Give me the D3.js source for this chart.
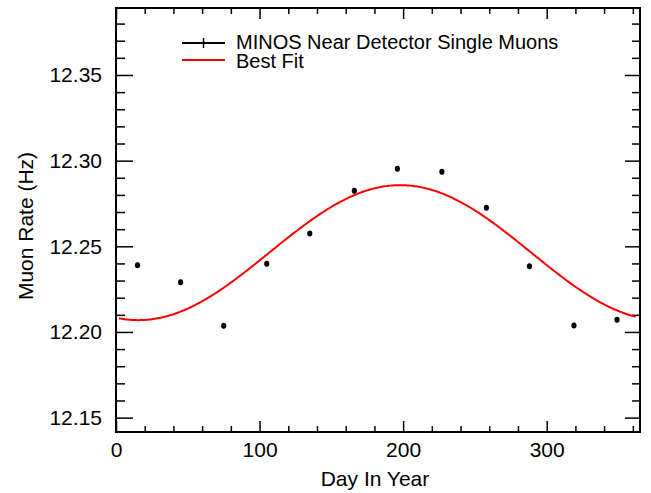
<!DOCTYPE html>
<html lang="en">
<head>
<meta charset="UTF-8">
<title>MINOS muon rate</title>
<script src="https://cdn.jsdelivr.net/npm/d3@7"></script>
<style>
  body { margin: 0; background: #fff; }
  text { font-family: "Liberation Sans", Arial, Helvetica, sans-serif; }
</style>
</head>
<body>
<script>
// data: monthly averages of single muon rate
var days = [15, 45, 75, 105, 135, 166, 196, 227, 258, 288, 319, 349];
var rates = [12.239, 12.229, 12.2036, 12.2398, 12.2575, 12.2824, 12.2953, 12.2935, 12.2725, 12.2383, 12.2038, 12.2071];
var errs = [0.0015, 0.0015, 0.0015, 0.0015, 0.0015, 0.0015, 0.0015, 0.0015, 0.0015, 0.0015, 0.0015, 0.0015];
var xMajor = [0, 100, 200, 300];
var yMajor = [12.15, 12.20, 12.25, 12.30, 12.35];
// best fit: mean + amp * cos(2pi (t - phase)/period)
var fitMean = 12.2463, fitAmp = 0.0394, fitPhase = 198, fitPeriod = 365;
var fitRange = [2, 362];
var legendLabels = ["MINOS Near Detector Single Muons", "Best Fit"];

var W = 651, H = 493;
var padL = 116, padR = 640, padT = 8, padB = 432;

var svg = d3.select("body").append("svg")
    .attr("width", W)
    .attr("height", H);

var x = d3.scaleLinear().domain([0, 365]).range([padL, padR]);
var y = d3.scaleLinear().domain([12.1416, 12.3891]).range([padB, padT]);

var xMinor = d3.range(0, 366, 20).filter(function (d) { return d % 100 !== 0; });
var yMinor = d3.range(12.15, 12.389, 0.01).map(function (d) { return +d.toFixed(2); })
    .filter(function (d) { return yMajor.indexOf(d) < 0; });

function styleAxis(g) {
    g.select(".domain").remove();
    g.selectAll(".tick line").attr("stroke", "#000").attr("stroke-width", 1.5);
    g.selectAll("text").attr("font-size", 21).attr("fill", "#000");
}

// bottom
svg.append("g").attr("transform", "translate(0," + padB + ")")
    .call(d3.axisBottom(x).tickValues(xMajor).tickSize(-11).tickPadding(10))
    .call(styleAxis);
svg.append("g").attr("transform", "translate(0," + padB + ")")
    .call(d3.axisBottom(x).tickValues(xMinor).tickSize(-6).tickFormat(""))
    .call(styleAxis);
// top
svg.append("g").attr("transform", "translate(0," + padT + ")")
    .call(d3.axisTop(x).tickValues(xMajor).tickSize(-11).tickFormat(""))
    .call(styleAxis);
svg.append("g").attr("transform", "translate(0," + padT + ")")
    .call(d3.axisTop(x).tickValues(xMinor).tickSize(-6).tickFormat(""))
    .call(styleAxis);
// left
svg.append("g").attr("transform", "translate(" + padL + ",0)")
    .call(d3.axisLeft(y).tickValues(yMajor).tickSize(-17).tickPadding(14).tickFormat(d3.format(".2f")))
    .call(styleAxis);
svg.append("g").attr("transform", "translate(" + padL + ",0)")
    .call(d3.axisLeft(y).tickValues(yMinor).tickSize(-9).tickFormat(""))
    .call(styleAxis);
// right
svg.append("g").attr("transform", "translate(" + padR + ",0)")
    .call(d3.axisRight(y).tickValues(yMajor).tickSize(-15).tickFormat(""))
    .call(styleAxis);
svg.append("g").attr("transform", "translate(" + padR + ",0)")
    .call(d3.axisRight(y).tickValues(yMinor).tickSize(-8).tickFormat(""))
    .call(styleAxis);

// frame
svg.append("rect")
    .attr("x", padL).attr("y", padT)
    .attr("width", padR - padL).attr("height", padB - padT)
    .attr("fill", "none").attr("stroke", "#000").attr("stroke-width", 2);

// fit curve
var fitDays = d3.range(fitRange[0], fitRange[1] + 0.5, 1);
var line = d3.line()
    .x(function (d) { return x(d); })
    .y(function (d) { return y(fitMean + fitAmp * Math.cos(2 * Math.PI * (d - fitPhase) / fitPeriod)); });
svg.append("path")
    .datum(fitDays)
    .attr("d", line)
    .attr("fill", "none")
    .attr("stroke", "#ff0000")
    .attr("stroke-width", 2);

// data points with error bars
var pts = days.map(function (d, i) { return { day: d, rate: rates[i], err: errs[i] }; });
svg.selectAll(".err").data(pts).enter().append("line")
    .attr("x1", function (d) { return x(d.day); })
    .attr("x2", function (d) { return x(d.day); })
    .attr("y1", function (d) { return y(d.rate + d.err); })
    .attr("y2", function (d) { return y(d.rate - d.err); })
    .attr("stroke", "#000").attr("stroke-width", 1.5);
svg.selectAll(".pt").data(pts).enter().append("ellipse")
    .attr("cx", function (d) { return x(d.day); })
    .attr("cy", function (d) { return y(d.rate); })
    .attr("rx", 2.6).attr("ry", 3)
    .attr("fill", "#000");

// legend
var lg = svg.append("g");
lg.append("line").attr("x1", 182).attr("x2", 225).attr("y1", 43).attr("y2", 43)
    .attr("stroke", "#000").attr("stroke-width", 2);
lg.append("line").attr("x1", 203.5).attr("x2", 203.5).attr("y1", 38).attr("y2", 48)
    .attr("stroke", "#000").attr("stroke-width", 1.5);
lg.append("line").attr("x1", 182).attr("x2", 225).attr("y1", 60).attr("y2", 60)
    .attr("stroke", "#ff0000").attr("stroke-width", 2);
lg.selectAll("text").data(legendLabels).enter().append("text")
    .attr("x", 236)
    .attr("y", function (d, i) { return 49 + i * 19; })
    .attr("font-size", 20)
    .text(function (d) { return d; });

// axis titles
svg.append("text")
    .attr("x", 375).attr("y", 486)
    .attr("text-anchor", "middle")
    .attr("font-size", 21)
    .text("Day In Year");
svg.append("text")
    .attr("transform", "translate(33,226) rotate(-90)")
    .attr("text-anchor", "middle")
    .attr("font-size", 21)
    .text("Muon Rate (Hz)");
</script>
</body>
</html>
